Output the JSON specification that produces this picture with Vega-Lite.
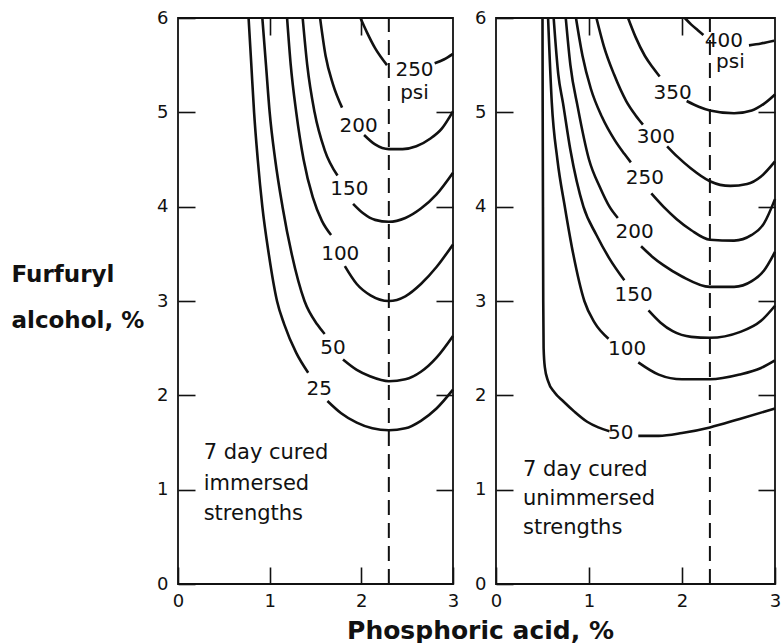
{
  "$schema": "https://vega.github.io/schema/vega-lite/v6.json",
  "padding": {"left": 10, "top": 8, "right": 5, "bottom": 0},
  "bounds": "flush",
  "spacing": 43,
  "background": "white",
  "config": {
    "font": "DejaVu Sans",
    "view": {"stroke": "#111", "strokeWidth": 1.8},
    "axis": {"grid": false, "domain": false, "tickColor": "#111", "tickWidth": 1.6, "labelColor": "#111", "titleColor": "#111", "labelFont": "DejaVu Sans", "titleFont": "DejaVu Sans", "labelFlush": false}
  },
  "datasets": {
    "curves": [
      {"p":"L","s":"L25a","x":0.77,"y":6},{"p":"L","s":"L25a","x":0.80,"y":5.5},{"p":"L","s":"L25a","x":0.83,"y":5.0},{"p":"L","s":"L25a","x":0.87,"y":4.5},{"p":"L","s":"L25a","x":0.92,"y":4.0},{"p":"L","s":"L25a","x":0.99,"y":3.5},{"p":"L","s":"L25a","x":1.08,"y":3.0},{"p":"L","s":"L25a","x":1.16,"y":2.75},{"p":"L","s":"L25a","x":1.29,"y":2.45},{"p":"L","s":"L25a","x":1.42,"y":2.24},
      {"p":"L","s":"L25b","x":1.63,"y":1.94},{"p":"L","s":"L25b","x":1.78,"y":1.81},{"p":"L","s":"L25b","x":1.95,"y":1.71},{"p":"L","s":"L25b","x":2.12,"y":1.65},{"p":"L","s":"L25b","x":2.3,"y":1.63},{"p":"L","s":"L25b","x":2.48,"y":1.65},{"p":"L","s":"L25b","x":2.65,"y":1.73},{"p":"L","s":"L25b","x":2.82,"y":1.86},{"p":"L","s":"L25b","x":3.0,"y":2.06},
      {"p":"L","s":"L50a","x":0.92,"y":6},{"p":"L","s":"L50a","x":0.96,"y":5.5},{"p":"L","s":"L50a","x":1.0,"y":5.0},{"p":"L","s":"L50a","x":1.06,"y":4.5},{"p":"L","s":"L50a","x":1.14,"y":4.0},{"p":"L","s":"L50a","x":1.24,"y":3.5},{"p":"L","s":"L50a","x":1.38,"y":3.0},{"p":"L","s":"L50a","x":1.52,"y":2.75},{"p":"L","s":"L50a","x":1.60,"y":2.65},
      {"p":"L","s":"L50b","x":1.80,"y":2.38},{"p":"L","s":"L50b","x":1.95,"y":2.27},{"p":"L","s":"L50b","x":2.1,"y":2.2},{"p":"L","s":"L50b","x":2.3,"y":2.15},{"p":"L","s":"L50b","x":2.48,"y":2.17},{"p":"L","s":"L50b","x":2.65,"y":2.25},{"p":"L","s":"L50b","x":2.82,"y":2.4},{"p":"L","s":"L50b","x":3.0,"y":2.63},
      {"p":"L","s":"L100a","x":1.19,"y":6},{"p":"L","s":"L100a","x":1.23,"y":5.5},{"p":"L","s":"L100a","x":1.29,"y":5.0},{"p":"L","s":"L100a","x":1.37,"y":4.5},{"p":"L","s":"L100a","x":1.47,"y":4.1},{"p":"L","s":"L100a","x":1.57,"y":3.85},{"p":"L","s":"L100a","x":1.67,"y":3.7},
      {"p":"L","s":"L100b","x":1.82,"y":3.37},{"p":"L","s":"L100b","x":1.95,"y":3.18},{"p":"L","s":"L100b","x":2.1,"y":3.06},{"p":"L","s":"L100b","x":2.3,"y":3.0},{"p":"L","s":"L100b","x":2.48,"y":3.05},{"p":"L","s":"L100b","x":2.65,"y":3.18},{"p":"L","s":"L100b","x":2.82,"y":3.36},{"p":"L","s":"L100b","x":3.0,"y":3.6},
      {"p":"L","s":"L150a","x":1.36,"y":6},{"p":"L","s":"L150a","x":1.41,"y":5.5},{"p":"L","s":"L150a","x":1.49,"y":5.0},{"p":"L","s":"L150a","x":1.60,"y":4.6},{"p":"L","s":"L150a","x":1.74,"y":4.33},
      {"p":"L","s":"L150b","x":1.91,"y":4.03},{"p":"L","s":"L150b","x":2.02,"y":3.93},{"p":"L","s":"L150b","x":2.15,"y":3.86},{"p":"L","s":"L150b","x":2.3,"y":3.84},{"p":"L","s":"L150b","x":2.48,"y":3.88},{"p":"L","s":"L150b","x":2.65,"y":3.98},{"p":"L","s":"L150b","x":2.82,"y":4.13},{"p":"L","s":"L150b","x":3.0,"y":4.36},
      {"p":"L","s":"L200a","x":1.55,"y":6},{"p":"L","s":"L200a","x":1.61,"y":5.6},{"p":"L","s":"L200a","x":1.69,"y":5.3},{"p":"L","s":"L200a","x":1.79,"y":5.05},
      {"p":"L","s":"L200b","x":2.03,"y":4.76},{"p":"L","s":"L200b","x":2.15,"y":4.66},{"p":"L","s":"L200b","x":2.3,"y":4.61},{"p":"L","s":"L200b","x":2.45,"y":4.61},{"p":"L","s":"L200b","x":2.6,"y":4.64},{"p":"L","s":"L200b","x":2.75,"y":4.72},{"p":"L","s":"L200b","x":2.88,"y":4.83},{"p":"L","s":"L200b","x":3.0,"y":5.01},
      {"p":"L","s":"L250a","x":1.99,"y":6},{"p":"L","s":"L250a","x":2.06,"y":5.85},{"p":"L","s":"L250a","x":2.15,"y":5.68},{"p":"L","s":"L250a","x":2.28,"y":5.5},
      {"p":"L","s":"L250b","x":2.80,"y":5.52},{"p":"L","s":"L250b","x":2.9,"y":5.56},{"p":"L","s":"L250b","x":3.0,"y":5.62},
      {"p":"R","s":"R50a","x":0.50,"y":6},{"p":"R","s":"R50a","x":0.502,"y":5},{"p":"R","s":"R50a","x":0.505,"y":4},{"p":"R","s":"R50a","x":0.508,"y":3},{"p":"R","s":"R50a","x":0.512,"y":2.5},{"p":"R","s":"R50a","x":0.525,"y":2.3},{"p":"R","s":"R50a","x":0.56,"y":2.15},{"p":"R","s":"R50a","x":0.63,"y":2.03},{"p":"R","s":"R50a","x":0.72,"y":1.94},{"p":"R","s":"R50a","x":0.84,"y":1.83},{"p":"R","s":"R50a","x":0.98,"y":1.72},{"p":"R","s":"R50a","x":1.1,"y":1.66},{"p":"R","s":"R50a","x":1.22,"y":1.62},
      {"p":"R","s":"R50b","x":1.53,"y":1.57},{"p":"R","s":"R50b","x":1.75,"y":1.57},{"p":"R","s":"R50b","x":2.0,"y":1.6},{"p":"R","s":"R50b","x":2.3,"y":1.66},{"p":"R","s":"R50b","x":2.62,"y":1.75},{"p":"R","s":"R50b","x":3.0,"y":1.86},
      {"p":"R","s":"R100a","x":0.56,"y":6},{"p":"R","s":"R100a","x":0.6,"y":5.1},{"p":"R","s":"R100a","x":0.66,"y":4.5},{"p":"R","s":"R100a","x":0.74,"y":4.0},{"p":"R","s":"R100a","x":0.83,"y":3.5},{"p":"R","s":"R100a","x":0.95,"y":3.0},{"p":"R","s":"R100a","x":1.06,"y":2.77},{"p":"R","s":"R100a","x":1.21,"y":2.6},
      {"p":"R","s":"R100b","x":1.53,"y":2.35},{"p":"R","s":"R100b","x":1.75,"y":2.22},{"p":"R","s":"R100b","x":2.0,"y":2.17},{"p":"R","s":"R100b","x":2.3,"y":2.17},{"p":"R","s":"R100b","x":2.62,"y":2.22},{"p":"R","s":"R100b","x":2.85,"y":2.29},{"p":"R","s":"R100b","x":3.0,"y":2.37},
      {"p":"R","s":"R150a","x":0.62,"y":6},{"p":"R","s":"R150a","x":0.67,"y":5.4},{"p":"R","s":"R150a","x":0.72,"y":5.1},{"p":"R","s":"R150a","x":0.8,"y":4.6},{"p":"R","s":"R150a","x":0.94,"y":4.0},{"p":"R","s":"R150a","x":1.08,"y":3.7},{"p":"R","s":"R150a","x":1.22,"y":3.45},{"p":"R","s":"R150a","x":1.38,"y":3.22},
      {"p":"R","s":"R150b","x":1.64,"y":2.9},{"p":"R","s":"R150b","x":1.77,"y":2.77},{"p":"R","s":"R150b","x":1.9,"y":2.68},{"p":"R","s":"R150b","x":2.1,"y":2.62},{"p":"R","s":"R150b","x":2.3,"y":2.61},{"p":"R","s":"R150b","x":2.62,"y":2.67},{"p":"R","s":"R150b","x":2.85,"y":2.79},{"p":"R","s":"R150b","x":3.0,"y":2.95},
      {"p":"R","s":"R200a","x":0.75,"y":6},{"p":"R","s":"R200a","x":0.8,"y":5.5},{"p":"R","s":"R200a","x":0.88,"y":5.05},{"p":"R","s":"R200a","x":1.0,"y":4.5},{"p":"R","s":"R200a","x":1.12,"y":4.2},{"p":"R","s":"R200a","x":1.22,"y":4.0},{"p":"R","s":"R200a","x":1.31,"y":3.88},
      {"p":"R","s":"R200b","x":1.56,"y":3.58},{"p":"R","s":"R200b","x":1.68,"y":3.47},{"p":"R","s":"R200b","x":1.8,"y":3.38},{"p":"R","s":"R200b","x":2.0,"y":3.26},{"p":"R","s":"R200b","x":2.3,"y":3.15},{"p":"R","s":"R200b","x":2.56,"y":3.15},{"p":"R","s":"R200b","x":2.75,"y":3.21},{"p":"R","s":"R200b","x":2.88,"y":3.32},{"p":"R","s":"R200b","x":3.0,"y":3.52},
      {"p":"R","s":"R250a","x":0.86,"y":6},{"p":"R","s":"R250a","x":0.93,"y":5.6},{"p":"R","s":"R250a","x":1.02,"y":5.25},{"p":"R","s":"R250a","x":1.14,"y":4.95},{"p":"R","s":"R250a","x":1.28,"y":4.7},{"p":"R","s":"R250a","x":1.38,"y":4.56},{"p":"R","s":"R250a","x":1.45,"y":4.47},
      {"p":"R","s":"R250b","x":1.67,"y":4.14},{"p":"R","s":"R250b","x":1.8,"y":4.0},{"p":"R","s":"R250b","x":1.94,"y":3.87},{"p":"R","s":"R250b","x":2.1,"y":3.75},{"p":"R","s":"R250b","x":2.3,"y":3.65},{"p":"R","s":"R250b","x":2.56,"y":3.64},{"p":"R","s":"R250b","x":2.75,"y":3.7},{"p":"R","s":"R250b","x":2.88,"y":3.82},{"p":"R","s":"R250b","x":3.0,"y":4.08},
      {"p":"R","s":"R300a","x":1.08,"y":6},{"p":"R","s":"R300a","x":1.16,"y":5.7},{"p":"R","s":"R300a","x":1.27,"y":5.4},{"p":"R","s":"R300a","x":1.40,"y":5.12},{"p":"R","s":"R300a","x":1.50,"y":4.97},{"p":"R","s":"R300a","x":1.58,"y":4.87},
      {"p":"R","s":"R300b","x":1.84,"y":4.64},{"p":"R","s":"R300b","x":1.95,"y":4.53},{"p":"R","s":"R300b","x":2.09,"y":4.41},{"p":"R","s":"R300b","x":2.3,"y":4.27},{"p":"R","s":"R300b","x":2.52,"y":4.22},{"p":"R","s":"R300b","x":2.7,"y":4.24},{"p":"R","s":"R300b","x":2.85,"y":4.32},{"p":"R","s":"R300b","x":3.0,"y":4.48},
      {"p":"R","s":"R350a","x":1.42,"y":6},{"p":"R","s":"R350a","x":1.5,"y":5.8},{"p":"R","s":"R350a","x":1.6,"y":5.6},{"p":"R","s":"R350a","x":1.69,"y":5.47},{"p":"R","s":"R350a","x":1.76,"y":5.38},
      {"p":"R","s":"R350b","x":2.05,"y":5.12},{"p":"R","s":"R350b","x":2.18,"y":5.06},{"p":"R","s":"R350b","x":2.3,"y":5.02},{"p":"R","s":"R350b","x":2.56,"y":4.99},{"p":"R","s":"R350b","x":2.75,"y":5.02},{"p":"R","s":"R350b","x":2.88,"y":5.09},{"p":"R","s":"R350b","x":3.0,"y":5.19},
      {"p":"R","s":"R400a","x":2.03,"y":6},{"p":"R","s":"R400a","x":2.1,"y":5.93},{"p":"R","s":"R400a","x":2.17,"y":5.87},{"p":"R","s":"R400a","x":2.23,"y":5.82},
      {"p":"R","s":"R400b","x":2.72,"y":5.71},{"p":"R","s":"R400b","x":2.85,"y":5.73},{"p":"R","s":"R400b","x":2.99,"y":5.76}
    ],
    "labels": [
      {"p":"L","t":"250","x":2.58,"y":5.45},{"p":"L","t":"psi","x":2.58,"y":5.2},{"p":"L","t":"200","x":1.97,"y":4.85},{"p":"L","t":"150","x":1.87,"y":4.19},{"p":"L","t":"100","x":1.77,"y":3.5},{"p":"L","t":"50","x":1.69,"y":2.5},{"p":"L","t":"25","x":1.54,"y":2.07},
      {"p":"R","t":"400","x":2.45,"y":5.76},{"p":"R","t":"psi","x":2.52,"y":5.53},{"p":"R","t":"350","x":1.9,"y":5.21},{"p":"R","t":"300","x":1.72,"y":4.74},{"p":"R","t":"250","x":1.6,"y":4.3},{"p":"R","t":"200","x":1.49,"y":3.73},{"p":"R","t":"150","x":1.48,"y":3.06},{"p":"R","t":"100","x":1.41,"y":2.49},{"p":"R","t":"50","x":1.34,"y":1.6}
    ],
    "notes": [
      {"p":"L","t":"7 day cured","x":0.28,"y":1.32},{"p":"L","t":"immersed","x":0.28,"y":1.0},{"p":"L","t":"strengths","x":0.28,"y":0.68},
      {"p":"R","t":"7 day cured","x":0.29,"y":1.15},{"p":"R","t":"unimmersed","x":0.29,"y":0.84},{"p":"R","t":"strengths","x":0.29,"y":0.53}
    ],
    "guides": [
      {"p":"L","x":2.3,"y":0,"y2":6},{"p":"R","x":2.3,"y":0,"y2":6}
    ]
  },
  "hconcat": [
    {
      "width": 275, "height": 566,
      "layer": [
        {
          "data": {"name": "guides"},
          "transform": [{"filter": "datum.p === 'L'"}],
          "mark": {"type": "rule", "strokeDash": [15, 8], "strokeWidth": 2, "color": "#111"},
          "encoding": {
            "x": {"field": "x", "type": "quantitative", "scale": {"domain": [0, 3], "nice": false}, "axis": {"orient": "top", "values": [1, 2], "tickSize": -17, "labels": false, "title": null}},
            "y": {"field": "y", "type": "quantitative", "scale": {"domain": [0, 6], "nice": false}, "axis": {"orient": "right", "values": [1, 2, 3, 4, 5], "tickSize": -17, "labels": false, "title": null}},
            "y2": {"field": "y2"}
          }
        },
        {
          "data": {"name": "curves"},
          "transform": [{"filter": "datum.p === 'L'"}],
          "mark": {"type": "line", "interpolate": "monotone", "strokeWidth": 2.6, "color": "#111"},
          "encoding": {
            "x": {"field": "x", "type": "quantitative", "scale": {"domain": [0, 3], "nice": false}, "axis": {"orient": "bottom", "values": [0, 1, 2, 3], "tickSize": -17, "labelPadding": 25, "labelFontSize": 18, "title": "Phosphoric acid, %", "titleFontSize": 25, "titleFontWeight": "bold", "titleX": 302, "titleY": 54, "titleAlign": "center", "titleBaseline": "alphabetic"}},
            "y": {"field": "y", "type": "quantitative", "scale": {"domain": [0, 6], "nice": false}, "axis": {"orient": "left", "values": [0, 1, 2, 3, 4, 5, 6], "tickSize": -17, "labelPadding": 27, "labelFontSize": 18, "title": ["Furfuryl", "alcohol, %"], "titleAngle": 0, "titleAlign": "left", "titleBaseline": "alphabetic", "titleX": -167, "titleY": 263, "titleFontSize": 23, "titleFontWeight": "bold", "titleLineHeight": 46}},
            "detail": {"field": "s"}
          }
        },
        {
          "data": {"name": "labels"},
          "transform": [{"filter": "datum.p === 'L'"}],
          "mark": {"type": "text", "fontSize": 20, "color": "#111", "align": "center", "baseline": "middle"},
          "encoding": {
            "x": {"field": "x", "type": "quantitative", "axis": null},
            "y": {"field": "y", "type": "quantitative", "axis": null},
            "text": {"field": "t"}
          }
        },
        {
          "data": {"name": "notes"},
          "transform": [{"filter": "datum.p === 'L'"}],
          "mark": {"type": "text", "fontSize": 21, "color": "#111", "align": "left", "baseline": "alphabetic"},
          "encoding": {
            "x": {"field": "x", "type": "quantitative", "axis": null},
            "y": {"field": "y", "type": "quantitative", "axis": null},
            "text": {"field": "t"}
          }
        }
      ],
      "resolve": {"axis": {"x": "independent", "y": "independent"}}
    },
    {
      "width": 279, "height": 566,
      "layer": [
        {
          "data": {"name": "guides"},
          "transform": [{"filter": "datum.p === 'R'"}],
          "mark": {"type": "rule", "strokeDash": [15, 8], "strokeWidth": 2, "color": "#111"},
          "encoding": {
            "x": {"field": "x", "type": "quantitative", "scale": {"domain": [0, 3], "nice": false}, "axis": {"orient": "top", "values": [1, 2], "tickSize": -17, "labels": false, "title": null}},
            "y": {"field": "y", "type": "quantitative", "scale": {"domain": [0, 6], "nice": false}, "axis": {"orient": "right", "values": [1, 2, 3, 4, 5], "tickSize": -17, "labels": false, "title": null}},
            "y2": {"field": "y2"}
          }
        },
        {
          "data": {"name": "curves"},
          "transform": [{"filter": "datum.p === 'R'"}],
          "mark": {"type": "line", "interpolate": "monotone", "strokeWidth": 2.6, "color": "#111"},
          "encoding": {
            "x": {"field": "x", "type": "quantitative", "scale": {"domain": [0, 3], "nice": false}, "axis": {"orient": "bottom", "values": [0, 1, 2, 3], "tickSize": -17, "labelPadding": 25, "labelFontSize": 18, "title": null}},
            "y": {"field": "y", "type": "quantitative", "scale": {"domain": [0, 6], "nice": false}, "axis": {"orient": "left", "values": [0, 1, 2, 3, 4, 5, 6], "tickSize": -17, "labelPadding": 27, "labelFontSize": 18, "title": null}},
            "detail": {"field": "s"}
          }
        },
        {
          "data": {"name": "labels"},
          "transform": [{"filter": "datum.p === 'R'"}],
          "mark": {"type": "text", "fontSize": 20, "color": "#111", "align": "center", "baseline": "middle"},
          "encoding": {
            "x": {"field": "x", "type": "quantitative", "axis": null},
            "y": {"field": "y", "type": "quantitative", "axis": null},
            "text": {"field": "t"}
          }
        },
        {
          "data": {"name": "notes"},
          "transform": [{"filter": "datum.p === 'R'"}],
          "mark": {"type": "text", "fontSize": 21, "color": "#111", "align": "left", "baseline": "alphabetic"},
          "encoding": {
            "x": {"field": "x", "type": "quantitative", "axis": null},
            "y": {"field": "y", "type": "quantitative", "axis": null},
            "text": {"field": "t"}
          }
        }
      ],
      "resolve": {"axis": {"x": "independent", "y": "independent"}}
    }
  ]
}
